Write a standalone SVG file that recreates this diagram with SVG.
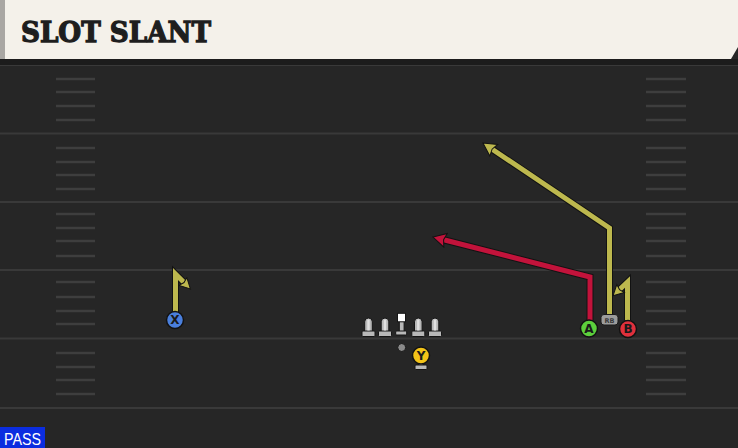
<svg xmlns="http://www.w3.org/2000/svg" width="738" height="448" viewBox="0 0 738 448">
<style>
.yard{stroke:#393939;stroke-width:2}
.hash{stroke:#3e3e3e;stroke-width:2.5}
.under{fill:none;stroke:#121212;stroke-width:7;stroke-linejoin:miter}
.ry{fill:none;stroke:#bdb84e;stroke-width:5;stroke-linejoin:miter}
.rr{fill:none;stroke:#c2133b;stroke-width:5;stroke-linejoin:miter}
.rcv{stroke:#121212;stroke-width:1.5}
.lbl{font-family:"DejaVu Sans","Liberation Sans",sans-serif;font-weight:bold;font-size:12px;fill:#1a1a1a;text-anchor:middle}
.ol{fill:#b8b8b8;stroke:#151515;stroke-width:1}
</style>
<defs>
<marker id="ay" viewBox="-1 -1 16 16" markerWidth="16" markerHeight="16" refX="5" refY="7" orient="auto" markerUnits="userSpaceOnUse">
<path d="M0,0 L13,7 L0,14 L2,7 z" fill="#bdb84e" stroke="#121212" stroke-width="1" stroke-linejoin="miter"/>
</marker>
<marker id="ays" viewBox="-1 -1 13 13" markerWidth="13" markerHeight="13" refX="4" refY="5.5" orient="auto" markerUnits="userSpaceOnUse">
<path d="M0,0 L10.5,5.5 L0,11 L1.5,5.5 z" fill="#bdb84e" stroke="#121212" stroke-width="1" stroke-linejoin="miter"/>
</marker>
<marker id="ar" viewBox="-1 -1 16 16" markerWidth="16" markerHeight="16" refX="5" refY="7" orient="auto" markerUnits="userSpaceOnUse">
<path d="M0,0 L13,7 L0,14 L2,7 z" fill="#c2133b" stroke="#121212" stroke-width="1" stroke-linejoin="miter"/>
</marker>
<g id="lineman">
<path class="ol" d="M-3.8,332 L-3.8,321.8 A3.8,3.8 0 0 1 3.8,321.8 L3.8,332 z"/>
<rect class="ol" x="-6.5" y="331" width="13" height="5.5" rx="1"/>
<rect x="-1.2" y="319.5" width="2.4" height="11" fill="#e0e0e0"/>
</g>
</defs>
<rect x="0" y="0" width="738" height="448" fill="#262626"/>
<g id="field">
<g class="yard">
<line x1="0" y1="65" x2="738" y2="65"/>
<line x1="0" y1="133.5" x2="738" y2="133.5"/>
<line x1="0" y1="202" x2="738" y2="202"/>
<line x1="0" y1="270" x2="738" y2="270"/>
<line x1="0" y1="338.5" x2="738" y2="338.5"/>
<line x1="0" y1="408" x2="738" y2="408"/>
</g>
<g class="hash">
<path d="M56,79H95M56,92H95M56,106H95M56,120H95M56,148H95M56,162H95M56,175H95M56,189H95M56,214H95M56,228H95M56,241H95M56,256H95M56,282H95M56,297H95M56,311H95M56,324H95M56,353H95M56,367H95M56,380H95M56,394H95"/>
<path d="M646,79H686M646,92H686M646,106H686M646,120H686M646,148H686M646,162H686M646,175H686M646,189H686M646,214H686M646,228H686M646,241H686M646,256H686M646,282H686M646,297H686M646,311H686M646,324H686M646,353H686M646,367H686M646,380H686M646,394H686"/>
</g>
</g>
<g id="title">
<rect x="0" y="59" width="738" height="6" fill="#1c1c1c"/>
<path d="M0,0 H738 V47 L731,59 H0 z" fill="#f4f1ea"/>
<rect x="0" y="0" width="5" height="59" fill="#a9a7a3"/>
<text x="21" y="42" font-family="'DejaVu Serif','Liberation Serif',serif" font-weight="bold" font-size="28" fill="#1e1e1e" stroke="#1e1e1e" stroke-width="1.3" textLength="190" lengthAdjust="spacingAndGlyphs">SLOT SLANT</text>
</g>
<g id="connectors">
<path class="under" d="M175.5,312 V274 L185.8,284.3"/>
<path class="ry" d="M175.5,312 V274 L185.8,284.3" marker-end="url(#ays)"/>
<path class="under" d="M627.5,320 V282 L617.7,291.3"/>
<path class="ry" d="M627.5,320 V282 L617.7,291.3" marker-end="url(#ays)"/>
<path class="under" d="M609.5,314 V228 L489.6,147.5"/>
<path class="ry" d="M609.5,314 V228 L489.6,147.5" marker-end="url(#ay)"/>
<path class="under" d="M590,320 V277 L440.7,239"/>
<path class="rr" d="M590,320 V277 L440.7,239" marker-end="url(#ar)"/>
</g>
<g id="node-X">
<circle class="rcv" cx="175" cy="320" r="8.5" fill="#4a7fdc"/>
<text class="lbl" x="175" y="324.3">X</text>
</g>
<g id="node-A">
<circle class="rcv" cx="589" cy="328.5" r="8.5" fill="#5ccf3c"/>
<text class="lbl" x="589" y="332.8">A</text>
</g>
<g id="node-B">
<circle class="rcv" cx="628" cy="329" r="8.5" fill="#e0303c"/>
<text class="lbl" x="628" y="333.3">B</text>
</g>
<g id="node-RB">
<rect x="601" y="314.5" width="17" height="10.5" rx="3" fill="#9c9c9c" stroke="#1a1a1a" stroke-width="1"/>
<text x="609.5" y="322.5" font-family="'DejaVu Sans','Liberation Sans',sans-serif" font-weight="bold" font-size="6.5" fill="#3a3a3a" text-anchor="middle">RB</text>
</g>
<g id="node-OL">
<use href="#lineman" x="368.5"/>
<use href="#lineman" x="385"/>
<use href="#lineman" x="418.3"/>
<use href="#lineman" x="435"/>
<rect class="ol" x="399.3" y="321" width="4.8" height="11"/>
<rect class="ol" x="395.7" y="331" width="11" height="4" rx="1"/>
<rect x="397.5" y="313.3" width="8" height="8.5" fill="#ffffff" stroke="#151515" stroke-width="1"/>
</g>
<g id="node-QB">
<circle cx="401.7" cy="347.5" r="4" fill="#8a8a8a" stroke="#151515" stroke-width="1"/>
</g>
<g id="node-Y">
<rect class="ol" x="419" y="362" width="4" height="4"/>
<rect class="ol" x="415" y="365" width="12" height="4.5" rx="1"/>
<circle class="rcv" cx="421" cy="355.5" r="8.5" fill="#f2c318"/>
<text class="lbl" x="421" y="359.8">Y</text>
</g>
<g id="badge">
<rect x="0" y="427" width="45" height="21" fill="#0b2de0"/>
<text x="4" y="445" font-family="'Liberation Sans',Arial,sans-serif" font-size="16" fill="#ffffff" textLength="37" lengthAdjust="spacingAndGlyphs">PASS</text>
</g>
</svg>
